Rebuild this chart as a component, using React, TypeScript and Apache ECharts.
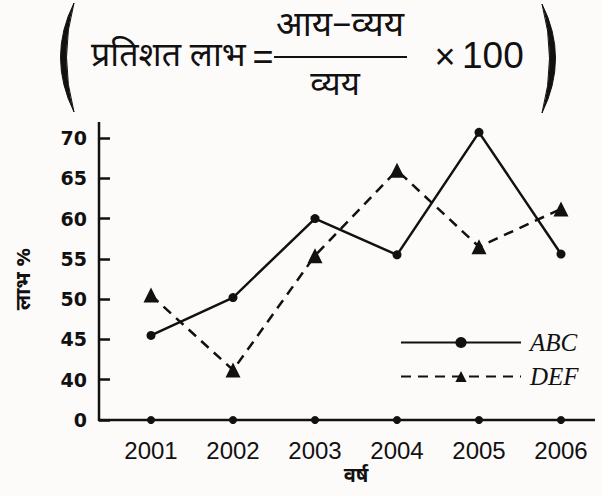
import React, { useEffect, useRef } from "react";
import * as echarts from "echarts";

const years = ["2001", "2002", "2003", "2004", "2005", "2006"];
const abcValues = [45.5, 50.2, 60, 55.5, 70.7, 55.6];
const defValues = [50.5, 41.2, 55.4, 66, 56.5, 61.2];
const yTickLabels = [0, 40, 45, 50, 55, 60, 65, 70];
const axisDotValues = [0, 0, 0, 0, 0, 0];

// broken axis: 0 is one step below 40
const scaleY = (v: number) => (v < 40 ? (v * 5) / 40 : v - 35);

const DEVA = '"Noto Sans Devanagari", "Noto Sans", sans-serif';

let registered = false;
function registerParens() {
  if (registered) return;
  registered = true;
  echarts.graphic.registerShape(
    "lparen",
    echarts.graphic.extendPath("M24,0 Q-3,54 24,109 Q9,54 24,0 Z", {})
  );
  echarts.graphic.registerShape(
    "rparen",
    echarts.graphic.extendPath("M0,0 Q27,54 0,109 Q15,54 0,0 Z", {})
  );
}

export default function App() {
  const ref = useRef<HTMLDivElement>(null);
  useEffect(() => {
    if (!ref.current) return;
    registerParens();
    const chart = echarts.init(ref.current, null, { renderer: "svg" });
    const tickStyle = { color: "#111", width: 2.5 };
    chart.setOption({
      animation: false,
      backgroundColor: "#fdfafa",
      grid: { left: 110, right: -12, top: 138, bottom: 76 },
      legend: {
        data: ["ABC", "DEF"],
        orient: "vertical",
        left: 395,
        top: 325,
        itemWidth: 120,
        itemHeight: 14,
        itemGap: 9,
        textStyle: {
          fontFamily: '"Liberation Serif", serif',
          fontStyle: "italic",
          fontSize: 25,
          color: "#111",
          lineHeight: 18,
          padding: [0, 0, 0, 4],
        },
      },
      xAxis: {
        type: "category",
        data: years,
        boundaryGap: true,
        axisLine: { show: false },
        axisTick: { show: false },
        axisLabel: {
          fontSize: 24,
          fontFamily: '"Liberation Sans", sans-serif',
          color: "#111",
          margin: 18,
        },
        name: "वर्ष",
        nameLocation: "middle",
        nameGap: 46,
        nameTextStyle: { fontFamily: DEVA, fontSize: 20, fontWeight: "bold", color: "#111" },
      },
      yAxis: [
        {
          type: "value",
          min: 0,
          max: 35,
          interval: 5,
          offset: 11,
          axisLine: { show: false },
          axisTick: { show: true, inside: true, length: 11, lineStyle: tickStyle },
          splitLine: { show: false },
          axisLabel: {
            fontSize: 19,
            fontWeight: "bold",
            fontFamily: '"DejaVu Sans", sans-serif',
            color: "#111",
            margin: 12,
            formatter: (v: number) => {
              const i = Math.round(v / 5);
              return yTickLabels[i] !== undefined ? String(yTickLabels[i]) : "";
            },
          },
          name: "लाभ %",
          nameLocation: "middle",
          nameRotate: 90,
          nameGap: 64,
          nameTextStyle: { fontFamily: DEVA, fontSize: 21, fontWeight: "bold", color: "#111" },
        },
        {
          type: "value",
          min: 0,
          max: 35,
          interval: 5,
          offset: 11,
          axisLine: { show: false },
          axisTick: { show: true, inside: false, length: 7, lineStyle: tickStyle },
          splitLine: { show: false },
          axisLabel: { show: false },
        },
      ],
      series: [
        {
          name: "ABC",
          type: "line",
          data: abcValues.map(scaleY),
          clip: false,
          symbol: "circle",
          symbolSize: 9,
          itemStyle: { color: "#111" },
          lineStyle: { color: "#111", width: 2.5, type: "solid" },
        },
        {
          name: "DEF",
          type: "line",
          data: defValues.map(scaleY),
          clip: false,
          symbol: "triangle",
          symbolSize: 15,
          itemStyle: { color: "#111" },
          lineStyle: { color: "#111", width: 2.5, type: [10, 7] },
        },
        {
          name: "axis",
          type: "scatter",
          data: axisDotValues.map(scaleY),
          clip: false,
          symbol: "circle",
          symbolSize: 8,
          itemStyle: { color: "#111", opacity: 1 },
          silent: true,
          z: 5,
        },
      ],
      graphic: [
        { type: "line", shape: { x1: 99, y1: 122, x2: 99, y2: 421 }, style: { stroke: "#111", lineWidth: 2.5 } },
        { type: "line", shape: { x1: 98, y1: 420, x2: 595, y2: 420 }, style: { stroke: "#111", lineWidth: 2.5 } },
        { type: "lparen", x: 50, y: 3, style: { fill: "#111", stroke: "#111", lineWidth: 1 } },
        { type: "rparen", x: 542, y: 4, style: { fill: "#111", stroke: "#111", lineWidth: 1 } },
        {
          type: "text",
          x: 91,
          y: 58,
          style: { text: "प्रतिशत लाभ", font: `34px ${DEVA}`, fill: "#111", textAlign: "left", textVerticalAlign: "middle" },
        },
        {
          type: "text",
          x: 263,
          y: 56,
          style: { text: "=", font: '36px "Liberation Sans", sans-serif', fill: "#111", textAlign: "center", textVerticalAlign: "middle" },
        },
        {
          type: "text",
          x: 340,
          y: 27,
          style: { text: "आय−व्यय", font: `35px ${DEVA}`, fill: "#111", textAlign: "center", textVerticalAlign: "middle" },
        },
        { type: "line", shape: { x1: 274, y1: 57, x2: 407, y2: 57 }, style: { stroke: "#111", lineWidth: 2.2 } },
        {
          type: "text",
          x: 335,
          y: 86,
          style: { text: "व्यय", font: `33px ${DEVA}`, fill: "#111", textAlign: "center", textVerticalAlign: "middle" },
        },
        {
          type: "text",
          x: 445,
          y: 56,
          style: { text: "×", font: '36px "Liberation Sans", sans-serif', fill: "#111", textAlign: "center", textVerticalAlign: "middle" },
        },
        {
          type: "text",
          x: 462,
          y: 55,
          style: { text: "100", font: '37px "Liberation Sans", sans-serif', fill: "#111", textAlign: "left", textVerticalAlign: "middle" },
        },
      ],
    });
    return () => chart.dispose();
  }, []);
  return (
    <div
      ref={ref}
      style={{ position: "fixed", left: 0, top: 0, width: 602, height: 496 }}
    />
  );
}
